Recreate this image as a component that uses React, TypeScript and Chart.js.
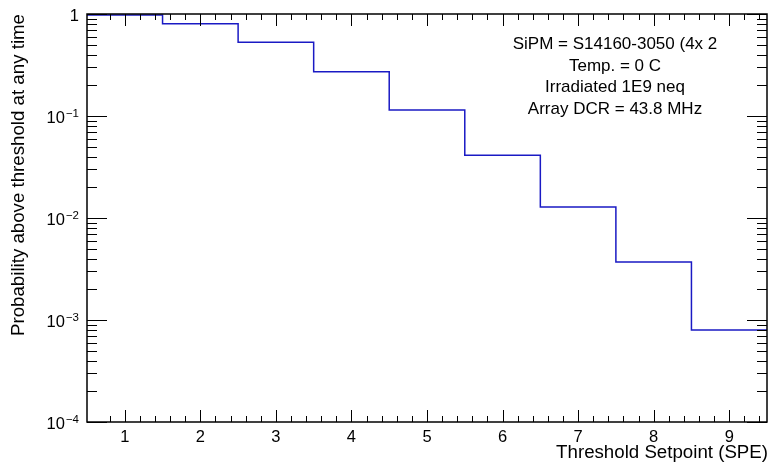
import React, { useEffect, useRef } from "react";
import { Chart, registerables } from "chart.js";

Chart.register(...registerables);

// ---- data ----
const thresholds = [1, 2, 3, 4, 5, 6, 7, 8, 9];
const probabilities = [0.98, 0.803, 0.528, 0.272, 0.1145, 0.0412, 0.0128, 0.00371, 0.0008];
const xTickValues = [1, 2, 3, 4, 5, 6, 7, 8, 9];
const yDecadeExponents = [0, -1, -2, -3, -4];
const infoLines = [
  "SiPM = S14160-3050 (4x 2",
  "Temp. = 0 C",
  "Irradiated 1E9 neq",
  "Array DCR = 43.8 MHz",
];
const xTitle = "Threshold Setpoint (SPE)";
const yTitle = "Probability above threshold at any time";
const X_MIN = 0.5;
const X_MAX = 9.5;
const Y_MIN = 1e-4;
const Y_MAX = 1;

const FONT = "'Liberation Sans', Arial, Helvetica, sans-serif";
const LINE_COLOR = "#1a1ac4";

const rootStylePlugin = {
  id: "rootStyle",
  afterDatasetsDraw(chart: any) {
    const ctx = chart.ctx as CanvasRenderingContext2D;
    const xs = chart.scales.x;
    const ys = chart.scales.y;
    const a = chart.chartArea;
    ctx.save();

    // frame
    ctx.strokeStyle = "#000";
    ctx.lineWidth = 1.5;
    ctx.strokeRect(a.left, a.top, a.right - a.left, a.bottom - a.top);

    // x ticks (bottom and top)
    ctx.lineWidth = 1;
    ctx.strokeStyle = "#000";
    ctx.beginPath();
    for (let k = Math.round(X_MIN * 5) + 1; k < Math.round(X_MAX * 5); k++) {
      const v = k / 5;
      const px = Math.round(xs.getPixelForValue(v)) + 0.5;
      const major = Math.abs(v - Math.round(v)) < 1e-6;
      const len = major ? 12 : 6;
      ctx.moveTo(px, a.bottom);
      ctx.lineTo(px, a.bottom - len);
      ctx.moveTo(px, a.top);
      ctx.lineTo(px, a.top + len);
    }
    // y ticks (left and right)
    for (let e = -4; e <= 0; e++) {
      for (let m = 1; m <= 9; m++) {
        const v = m * Math.pow(10, e);
        if (v > Y_MAX * 1.0001 || v < Y_MIN * 0.9999) continue;
        const py = Math.round(ys.getPixelForValue(v)) + 0.5;
        const len = m === 1 ? 20 : 10;
        ctx.moveTo(a.left, py);
        ctx.lineTo(a.left + len, py);
        ctx.moveTo(a.right, py);
        ctx.lineTo(a.right - len, py);
      }
    }
    ctx.stroke();

    ctx.fillStyle = "#000";
    // x tick labels
    ctx.font = `16.5px ${FONT}`;
    ctx.textAlign = "center";
    ctx.textBaseline = "alphabetic";
    xTickValues.forEach((v) => {
      ctx.fillText(String(v), xs.getPixelForValue(v), 441.5);
    });

    // y tick labels with superscript exponents
    yDecadeExponents.forEach((e) => {
      const py = ys.getPixelForValue(Math.pow(10, e));
      const right = 79;
      if (e === 0) {
        ctx.font = `16.5px ${FONT}`;
        ctx.textAlign = "right";
        ctx.fillText("1", right, py + 7);
      } else {
        ctx.font = `11.5px ${FONT}`;
        ctx.textAlign = "right";
        const expText = "\u2212" + String(-e);
        ctx.fillText(expText, right, py + 0.5);
        const ew = ctx.measureText(expText).width;
        ctx.font = `16.5px ${FONT}`;
        ctx.fillText("10", right - ew - 1, py + 7);
      }
    });

    // axis titles
    ctx.font = `18.7px ${FONT}`;
    ctx.textAlign = "right";
    ctx.fillText(xTitle, 768, 458);

    ctx.save();
    ctx.translate(24, a.top);
    ctx.rotate(-Math.PI / 2);
    ctx.textAlign = "right";
    ctx.fillText(yTitle, 0, 0);
    ctx.restore();

    // info text
    ctx.font = `17px ${FONT}`;
    ctx.textAlign = "center";
    infoLines.forEach((line, i) => {
      ctx.fillText(line, 615, 49 + i * 21.5);
    });

    ctx.restore();
  },
};

export default function App() {
  const canvasRef = useRef<HTMLCanvasElement | null>(null);

  useEffect(() => {
    document.body.style.margin = "0";
    const canvas = canvasRef.current;
    if (!canvas) return;

    const points = thresholds.map((t, i) => ({ x: t - 0.5, y: probabilities[i] }));
    points.push({
      x: thresholds[thresholds.length - 1] + 0.5,
      y: probabilities[probabilities.length - 1],
    });

    const chart = new Chart(canvas, {
      type: "line",
      data: {
        datasets: [
          {
            data: points,
            stepped: "before",
            borderColor: LINE_COLOR,
            borderWidth: 1.5,
            pointRadius: 0,
            fill: false,
          },
        ],
      },
      options: {
        animation: false,
        responsive: false,
        devicePixelRatio: 1,
        layout: { padding: { left: 87, top: 14, right: 2, bottom: 41 } },
        scales: {
          x: { type: "linear", min: X_MIN, max: X_MAX, display: false },
          y: { type: "logarithmic", min: Y_MIN, max: Y_MAX, display: false },
        },
        plugins: {
          legend: { display: false },
          tooltip: { enabled: false },
        },
      },
      plugins: [rootStylePlugin],
    } as any);

    return () => chart.destroy();
  }, []);

  return (
    <div style={{ width: 769, height: 463, background: "#fff" }}>
      <canvas ref={canvasRef} width={769} height={463} style={{ display: "block" }} />
    </div>
  );
}
